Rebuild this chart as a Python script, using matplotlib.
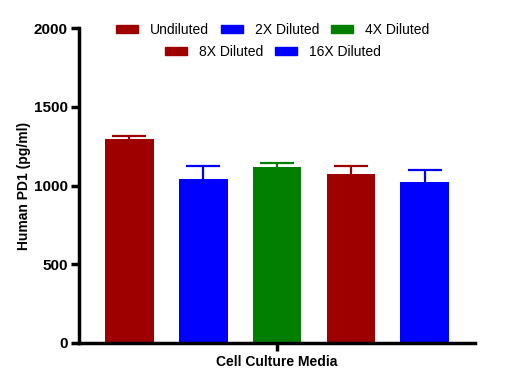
import matplotlib.pyplot as plt
from matplotlib.patches import Patch

groups = ["Undiluted", "2X Diluted", "4X Diluted", "8X Diluted", "16X Diluted"]
means = [1293, 1041, 1117, 1073, 1022]
errs = [23, 83, 28, 51, 76]
colors = ["#9e0000", "#0000ff", "#007f00", "#9e0000", "#0000ff"]
category = "Cell Culture Media"

plt.rcParams['font.family'] = ['Liberation Sans', 'DejaVu Sans']

fig = plt.figure(figsize=(5.19, 3.89), dpi=100)
ax = fig.add_axes([79 / 519, 1 - 343 / 389, 396 / 519, 315 / 389])

xs = list(range(len(groups)))
for x, m, e, c in zip(xs, means, errs, colors):
	ax.bar(x, m, width=0.66, color=c, zorder=2)
	line, caps, bars = ax.errorbar(x, m, yerr=[[0], [e]], fmt='none', ecolor=c,
		elinewidth=1.6, capsize=12, capthick=1.6, zorder=3)
	caps[0].remove()

ax.set_xlim(-0.68, 4.68)
ax.set_ylim(0, 2000)
ax.set_yticks([0, 500, 1000, 1500, 2000])
ax.set_xticks([2])
ax.set_xticklabels([""])
ax.set_xlabel(category, fontsize=10, fontweight='bold', labelpad=1)
ax.set_ylabel("Human PD1 (pg/ml)", fontsize=10, fontweight='bold', labelpad=2)

for s in ['top', 'right']:
	ax.spines[s].set_visible(False)
for s in ['left', 'bottom']:
	ax.spines[s].set_linewidth(2.5)
ax.tick_params(axis='both', width=2.5, length=6, pad=2)
ax.tick_params(axis='y', labelsize=11)
for lbl in ax.get_yticklabels():
	lbl.set_fontweight('bold')

handles = [Patch(color=c) for c in colors]
kw = dict(loc='center', frameon=False, fontsize=10, handlelength=1.6,
	handleheight=0.5, columnspacing=0.85, handletextpad=0.85)
leg1 = ax.legend(handles[:3], groups[:3], ncol=3, bbox_to_anchor=(0.489, 0.994), **kw)
ax.add_artist(leg1)
ax.legend(handles[3:], groups[3:], ncol=2, bbox_to_anchor=(0.489, 0.924), **kw)

fig.savefig("out.png", dpi=100)
